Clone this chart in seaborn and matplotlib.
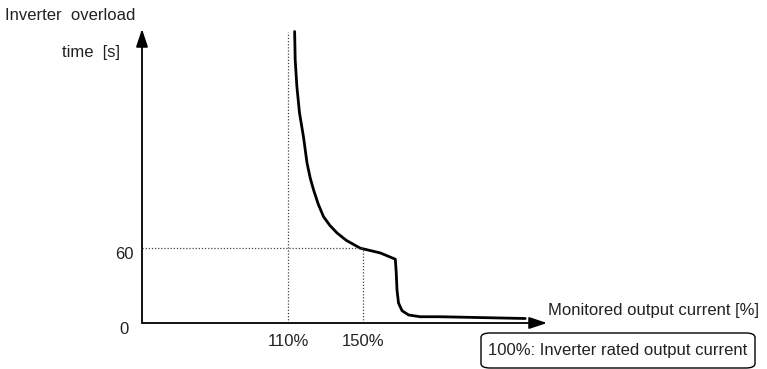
import matplotlib
matplotlib.use("Agg")
import matplotlib.pyplot as plt
import seaborn as sns
import pandas as pd
from matplotlib.patches import FancyBboxPatch

# ---- data ----
current_pct = [113.4, 113.7, 114.6, 116.0, 118.2, 120.0, 121.7, 123.5, 126.0, 128.8,
               132.2, 136.0, 141.0, 148.4, 153.5, 159.1, 167.1,
               167.6, 168.0, 168.8, 170.7, 174.2, 180.4, 191.1, 236.4]
overload_s = [233, 210.4, 189, 168, 148, 128, 116, 106.4, 95, 85,
              78, 72, 66, 59.8, 58, 56, 51,
              40, 26.4, 16, 9.8, 6.4, 5, 5, 3.6]
x_ticks = [110, 150]
x_tick_labels = ["110%", "150%"]
y_ticks = [0, 60]
y_tick_labels = ["0", "60"]
x_min, x_max = 32, 248
y_min, y_max = 0, 235

sns.set_theme(style="white")
plt.rcParams['font.family'] = ['Liberation Sans', 'DejaVu Sans']

W, H = 767, 369
fig = plt.figure(figsize=(W / 100, H / 100), dpi=100)
ax = fig.add_axes([142 / W, (H - 323) / H, (547 - 142) / W, (323 - 29) / H])
ax.set_xlim(x_min, x_max)
ax.set_ylim(y_min, y_max)
ax.axis("off")

df = pd.DataFrame({"current": current_pct, "time": overload_s})
sns.lineplot(data=df, x="current", y="time", ax=ax, color="black", lw=2.0,
             sort=False, estimator=None)
ax.lines[-1].set_solid_joinstyle("round")

# dotted guide lines
dot = dict(color="#444444", lw=0.9, ls=(0, (1, 1.5)))
ax.plot([x_ticks[0], x_ticks[0]], [0, overload_s[0]], **dot)
ax.plot([x_min, x_ticks[1]], [y_ticks[1], y_ticks[1]], **dot)
ax.plot([x_ticks[1], x_ticks[1]], [0, y_ticks[1]], **dot)

# axes with arrows
arrow = dict(arrowstyle="-|>,head_length=0.9,head_width=0.3", color="black", lw=1.3,
             shrinkA=0, shrinkB=0)
ax.annotate("", xy=(x_max, 0), xytext=(x_min, 0), arrowprops=arrow, annotation_clip=False)
ax.annotate("", xy=(x_min, y_max), xytext=(x_min, 0), arrowprops=arrow, annotation_clip=False)

fs = 12
tc = "#222222"
for xv, lab in zip(x_ticks, x_tick_labels):
    ax.annotate(lab, xy=(xv, 0), xytext=(0, -13), textcoords="offset points",
                ha="center", va="center", fontsize=fs, color=tc)
for yv, lab in zip(y_ticks, y_tick_labels):
    ax.annotate(lab, xy=(x_min, yv), xytext=(-13, -4.5), textcoords="offset points",
                ha="center", va="center", fontsize=fs, color=tc)

fig.text(5 / W, 1 - 15 / H, "Inverter  overload", ha="left", va="center", fontsize=fs, color=tc)
fig.text(62 / W, 1 - 52 / H, "time  [s]", ha="left", va="center", fontsize=fs, color=tc)
fig.text(548 / W, 1 - 310 / H, "Monitored output current [%]", ha="left", va="center",
         fontsize=fs, color=tc)

box = FancyBboxPatch((481 / W, 1 - 368 / H), (755 - 481) / W, (368 - 333) / H,
                     boxstyle="round,pad=0,rounding_size=0.012", transform=fig.transFigure,
                     fill=False, ec="black", lw=1.0)
fig.patches.append(box)
fig.text(618 / W, 1 - 351 / H, "100%: Inverter rated output current", ha="center", va="center",
         fontsize=fs, color=tc)

fig.savefig("out.png", dpi=100)
